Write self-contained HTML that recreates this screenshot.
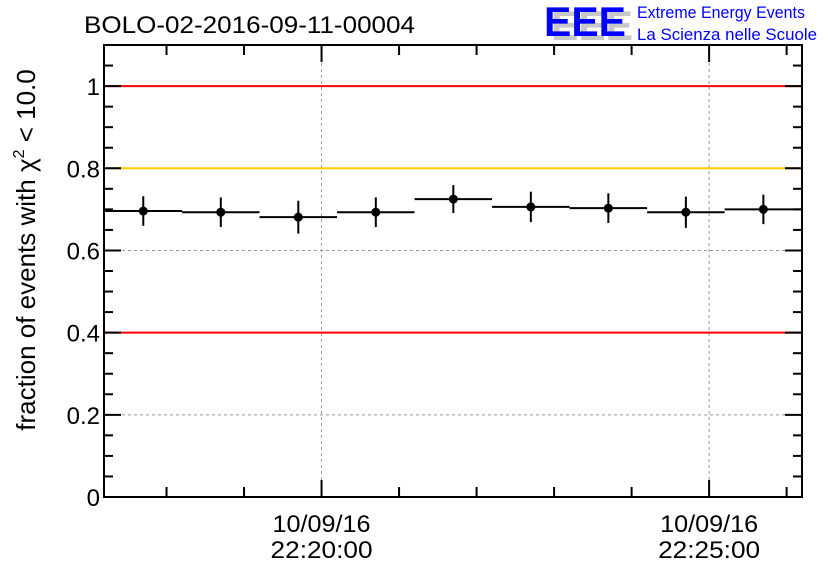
<!DOCTYPE html>
<html><head><meta charset="utf-8"><style>
body{margin:0;background:#fff;}
svg text{font-family:"Liberation Sans",sans-serif;}
</style></head><body>
<svg id="chart" width="836" height="572" viewBox="0 0 836 572" xmlns="http://www.w3.org/2000/svg">
<rect width="836" height="572" fill="#fff"/>
<text x="84" y="33" font-size="24" fill="#000" textLength="331" lengthAdjust="spacingAndGlyphs">BOLO-02-2016-09-11-00004</text>
<g>
<text x="551" y="40" font-size="42" font-weight="bold" fill="#c8c8c8" textLength="82" lengthAdjust="spacingAndGlyphs">EEE</text>
<text x="544" y="36" font-size="42" font-weight="bold" fill="#0000ff" textLength="82" lengthAdjust="spacingAndGlyphs">EEE</text>
<text x="637" y="18" font-size="16.5" fill="#0000ff" textLength="168" lengthAdjust="spacingAndGlyphs">Extreme Energy Events</text>
<text x="637" y="40" font-size="16.5" fill="#0000ff" textLength="180" lengthAdjust="spacingAndGlyphs">La Scienza nelle Scuole</text>
</g>
<text transform="translate(35,250) rotate(-90)" text-anchor="middle" font-size="26" fill="#000">fraction of events with χ<tspan dy="-11" font-size="16">2</tspan><tspan dy="11"> &lt; 10.0</tspan></text>
<g id="grid"></g>
<g id="refs"></g>
<g id="axes"></g>
<g id="marks"></g>
</svg>
<script>
const binCentersSec = [-138, -78, -18, 42, 102, 162, 222, 282, 342];
const fractionValues = [0.696, 0.693, 0.681, 0.693, 0.725, 0.706, 0.703, 0.693, 0.700];
const fractionErrors = [0.036, 0.036, 0.040, 0.036, 0.034, 0.037, 0.036, 0.038, 0.036];
const yTickValues = [0, 0.2, 0.4, 0.6, 0.8, 1];
const yTickLabels = ["0", "0.2", "0.4", "0.6", "0.8", "1"];
const xMajorSec = [0, 300];
const xMajorDate = ["10/09/16", "10/09/16"];
const xMajorTime = ["22:20:00", "22:25:00"];
const refLineValues = [1.0, 0.8, 0.4];
const refLineColors = ["#ff0000", "#ffcc00", "#ff0000"];

const L=104, R=802, T=45, B=497;
const yMin=0, yMax=1.1;
const xMinSec=-168.4, xMaxSec=371.9;
const X = s => L + (s - xMinSec) / (xMaxSec - xMinSec) * (R - L);
const Y = v => B - (v - yMin) / (yMax - yMin) * (B - T);
const NS="http://www.w3.org/2000/svg";
function mk(tag, attrs, parent){const e=document.createElementNS(NS,tag);for(const k in attrs)e.setAttribute(k,attrs[k]);parent.appendChild(e);return e;}
const grid=document.getElementById('grid'), refs=document.getElementById('refs'), axes=document.getElementById('axes'), marks=document.getElementById('marks');

yTickValues.forEach(v=>{ if(v>0){ const g=mk('line',{x1:L,x2:R,y1:Y(v),y2:Y(v),stroke:'#999','stroke-dasharray':'3,3','stroke-width':1},grid);

}});
xMajorSec.forEach(s=>{ const g=mk('line',{x1:X(s),x2:X(s),y1:T,y2:B,stroke:'#999','stroke-dasharray':'3,3','stroke-width':1},grid);

});

refLineValues.forEach((v,i)=>{ const l=mk('line',{x1:L,x2:R,y1:Y(v),y2:Y(v),stroke:refLineColors[i],'stroke-width':2},refs);

});

const fr=mk('rect',{x:L,y:T,width:R-L,height:B-T,fill:'none',stroke:'#000','stroke-width':2},axes);



for(let i=0;i<=22;i++){const v=i*0.05; const y=Y(v); const len=(i%4===0)?17:9;
 mk('line',{x1:L,x2:L+len,y1:y,y2:y,stroke:'#000','stroke-width':2},axes);
 mk('line',{x1:R,x2:R-len,y1:y,y2:y,stroke:'#000','stroke-width':2},axes);}
yTickValues.forEach((v,i)=>{const t=mk('text',{x:L-4,y:Y(v)+9,'text-anchor':'end','font-size':24,fill:'#000'},axes);t.textContent=yTickLabels[i];

});

for(let s=-120;s<=360;s+=60){const x=X(s); const major=xMajorSec.includes(s); const len=major?17:10;
 mk('line',{x1:x,x2:x,y1:B,y2:B-len,stroke:'#000','stroke-width':2},axes);
 mk('line',{x1:x,x2:x,y1:T,y2:T+len,stroke:'#000','stroke-width':2},axes);}
xMajorSec.forEach((s,i)=>{
 const t1=mk('text',{x:X(s),y:532,'text-anchor':'middle','font-size':24,fill:'#000',textLength:98,lengthAdjust:'spacingAndGlyphs'},axes);t1.textContent=xMajorDate[i];
 
 
 const t2=mk('text',{x:X(s),y:558,'text-anchor':'middle','font-size':24,fill:'#000',textLength:102,lengthAdjust:'spacingAndGlyphs'},axes);t2.textContent=xMajorTime[i];
 
 });

binCentersSec.forEach((s,i)=>{
 const g=mk('g',{},marks);
 
 
 const v=fractionValues[i], e=fractionErrors[i];
 const x0=Math.max(L,X(s-30)), x1=Math.min(R,X(s+30));
 mk('line',{x1:x0,x2:x1,y1:Y(v),y2:Y(v),stroke:'#000','stroke-width':2},g);
 mk('line',{x1:X(s),x2:X(s),y1:Y(v+e),y2:Y(v-e),stroke:'#000','stroke-width':2},g);
 mk('circle',{cx:X(s),cy:Y(v),r:4.5,fill:'#000'},g);
});
</script>
</body></html>
